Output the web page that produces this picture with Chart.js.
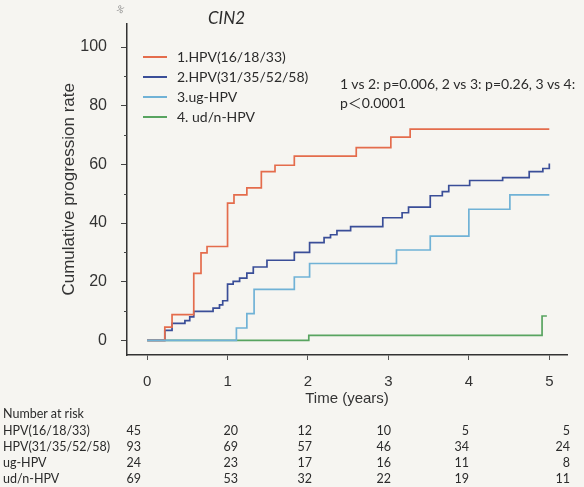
<!DOCTYPE html>
<html>
<head>
<meta charset="utf-8">
<script src="https://cdn.jsdelivr.net/npm/chart.js@4.4.1/dist/chart.umd.min.js"></script>
<style>
html, body { margin: 0; padding: 0; background: #f6f5f1; }
#wrap { position: relative; width: 584px; height: 487px; overflow: hidden; }
#c { position: absolute; left: 0; top: 0; }
.t { position: absolute; white-space: nowrap; color: #2b2b2b; font-family: Lato, 'Open Sans', 'Noto Sans CJK SC', sans-serif; line-height: 1; transform: translateY(-50%); }
.num { transform: translate(-100%, -50%); }
.swatch { position: absolute; width: 24px; height: 0; border-top: 2px solid; }
</style>
</head>
<body>
<div id="wrap"><canvas id="c" width="584" height="487"></canvas></div>
<script>
// series (time in years, cumulative progression %)
const redT   = [0, 0.22, 0.31, 0.58, 0.67, 0.745, 1.0, 1.08, 1.24, 1.42, 1.59, 1.83, 2.6, 3.03, 3.27, 5.0];
const redY   = [0, 4.5, 8.8, 22.8, 29.8, 32, 46.8, 49.6, 52, 57.5, 59.7, 62.8, 65.7, 69.3, 72, 72];
const blueT  = [0, 0.22, 0.31, 0.47, 0.53, 0.58, 0.82, 0.9, 0.94, 1.0, 1.07, 1.15, 1.24, 1.32, 1.49, 1.83, 2.02, 2.2, 2.28, 2.36, 2.53, 2.93, 3.17, 3.25, 3.52, 3.67, 3.75, 4.01, 4.42, 4.75, 4.92, 5.0];
const blueY  = [0, 3.4, 5.8, 6.7, 8, 9.9, 11, 12.1, 13.5, 19.2, 20.1, 21.2, 22.9, 25, 27.3, 30, 33.3, 35, 36, 37.4, 38.8, 41.8, 43.5, 45.4, 49.3, 50.7, 52.8, 54.5, 55.5, 57.5, 58.6, 60.3];
const lightT = [0, 1.11, 1.24, 1.33, 1.83, 2.02, 3.1, 3.52, 4.0, 4.51, 5.0];
const lightY = [0, 4.2, 9.1, 17.4, 21.6, 26.2, 30.8, 35.5, 44.7, 49.6, 49.6];
const greenT = [0, 2.01, 4.91, 4.97];
const greenY = [0, 1.7, 8.3, 8.3];

const legendNames = ['1.HPV(16/18/33)', '2.HPV(31/35/52/58)', '3.ug-HPV', '4. ud/n-HPV'];
const colors = ['rgb(228,108,76)', 'rgb(58,78,152)', 'rgb(112,178,214)', 'rgb(88,164,96)'];

const xTicks = [0, 1, 2, 3, 4, 5];
const yTicks = [0, 20, 40, 60, 80, 100];
const yMinor = [10, 30, 50, 70, 90];

// number at risk table
const riskNames = ['HPV(16/18/33)', 'HPV(31/35/52/58)', 'ug-HPV', 'ud/n-HPV'];
const risk1 = [45, 20, 12, 10, 5, 5];
const risk2 = [93, 69, 57, 46, 34, 24];
const risk3 = [24, 23, 17, 16, 11, 8];
const risk4 = [69, 53, 32, 22, 19, 11];

const pStats = '1 vs 2: p=0.006, 2 vs 3: p=0.26, 3 vs 4:';
const pStats2 = 'p＜0.0001';

function pts(ts, ys) {
    return ts.map((t, i) => ({x: t, y: ys[i]}));
}

const axisFont = {family: "'Liberation Sans', Arial, sans-serif", size: 15};

// short minor ticks on the y axis
const minorTicks = {
    id: 'minorTicks',
    afterDraw(chart) {
        const y = chart.scales.y;
        const c = chart.ctx;
        c.save();
        c.strokeStyle = '#444';
        c.lineWidth = 1;
        yMinor.forEach(v => {
            const py = Math.round(y.getPixelForValue(v)) + 0.5;
            c.beginPath();
            c.moveTo(y.right - 3, py);
            c.lineTo(y.right, py);
            c.stroke();
        });
        c.restore();
    }
};

const chart = new Chart(document.getElementById('c'), {
    type: 'line',
    data: {
        datasets: [
            {label: legendNames[0], data: pts(redT, redY), borderColor: colors[0], order: 1},
            {label: legendNames[1], data: pts(blueT, blueY), borderColor: colors[1], order: 2},
            {label: legendNames[2], data: pts(lightT, lightY), borderColor: colors[2], order: 0},
            {label: legendNames[3], data: pts(greenT, greenY), borderColor: colors[3], order: 3}
        ]
    },
    options: {
        responsive: false,
        animation: false,
        layout: {padding: {left: 54, top: 12, right: 17, bottom: 79}},
        elements: {
            line: {stepped: true, borderWidth: 1.7, fill: false},
            point: {radius: 0}
        },
        plugins: {
            legend: {display: false},
            tooltip: {enabled: false}
        },
        scales: {
            x: {
                type: 'linear',
                min: -0.25,
                max: 5.22,
                afterBuildTicks: s => { s.ticks = xTicks.map(v => ({value: v})); },
                afterFit: s => { s.height = 53; },
                grid: {drawOnChartArea: false, tickLength: 5, color: '#555'},
                border: {color: '#333', width: 1.5},
                ticks: {font: axisFont, color: '#333', padding: 13},
                title: {display: true, text: 'Time (years)', font: axisFont, color: '#333', padding: {top: 4, bottom: 0}}
            },
            y: {
                type: 'linear',
                min: -5,
                max: 108,
                afterBuildTicks: s => { s.ticks = yTicks.map(v => ({value: v})); },
                afterFit: s => { s.width = 73; },
                grid: {drawOnChartArea: false, tickLength: 6, color: '#444'},
                border: {color: '#333', width: 1.5},
                ticks: {font: {family: axisFont.family, size: 16}, color: '#333', padding: 14},
                title: {display: true, text: 'Cumulative progression rate', font: {family: axisFont.family, size: 17}, color: '#333', padding: {top: 5, bottom: 0}}
            }
        }
    },
    plugins: [minorTicks]
});

// overlay texts
const wrap = document.getElementById('wrap');
function addText(txt, x, y, size, cls, extra) {
    const d = document.createElement('div');
    d.className = 't' + (cls ? ' ' + cls : '');
    d.textContent = txt;
    d.style.left = x + 'px';
    d.style.top = y + 'px';
    d.style.fontSize = size + 'px';
    if (extra) Object.assign(d.style, extra);
    wrap.appendChild(d);
}

addText('CIN2', 208, 17, 17, '', {fontStyle: 'italic'});
addText('%', 117, 9, 9, '', {color: '#888', transform: 'translateY(-50%) rotate(30deg)'});

// legend
const legendY = [57, 77, 97, 117];
legendNames.forEach((n, i) => {
    const s = document.createElement('div');
    s.className = 'swatch';
    s.style.left = '143px';
    s.style.top = (legendY[i] - 1) + 'px';
    s.style.borderTopColor = colors[i];
    wrap.appendChild(s);
    addText(n, 177, legendY[i], 14);
});

addText(pStats, 340, 84, 14);
addText(pStats2, 340, 103, 14);

// number at risk
const riskRowsY = [431, 447, 463, 479];
const riskColX = [141, 238, 312, 391, 469, 570];
addText('Number at risk', 3, 414, 12.5);
[risk1, risk2, risk3, risk4].forEach((row, r) => {
    addText(riskNames[r], 3, riskRowsY[r], 12.5);
    row.forEach((v, k) => addText(String(v), riskColX[k], riskRowsY[r], 12.5, 'num'));
});
</script>
</body>
</html>
